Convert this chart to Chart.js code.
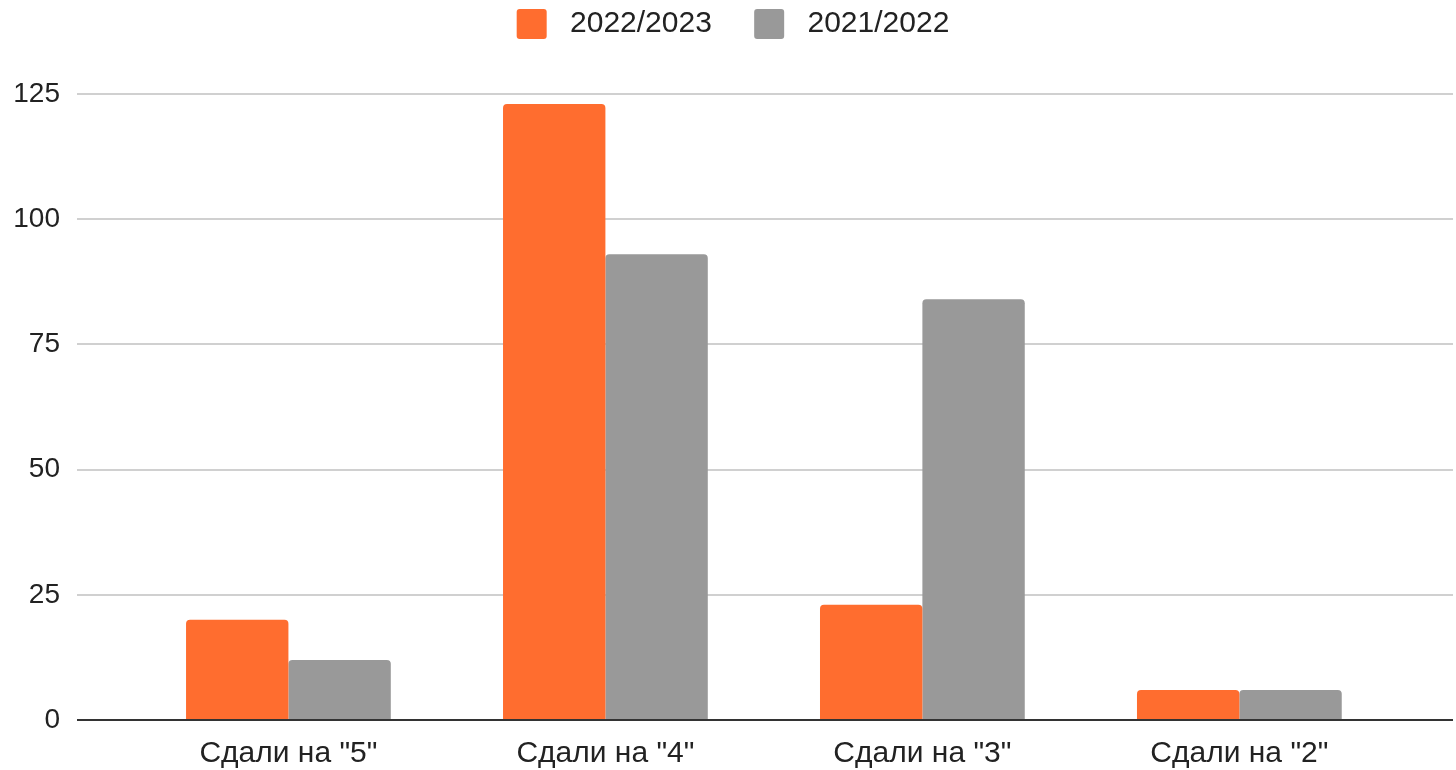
<!DOCTYPE html>
<html>
<head>
<meta charset="utf-8">
<script src="https://cdn.jsdelivr.net/npm/chart.js@4.4.1/dist/chart.umd.min.js"></script>
<style>
    body { margin: 0; background: #fff; }
    #wrap { width: 1456px; height: 770px; position: relative; }
</style>
</head>
<body>
<div id="wrap"><canvas id="gradesChart"></canvas></div>
<script>
// Data
const categories = ['Сдали на "5"', 'Сдали на "4"', 'Сдали на "3"', 'Сдали на "2"'];
const seriesNames = ['2022/2023', '2021/2022'];
const values2023 = [20, 123, 23, 6];
const values2022 = [12, 93, 84, 6];
const yTicks = [0, 25, 50, 75, 100, 125];

const orange = '#ff6d2f';
const grey = '#999999';

// bars sit on a linear x scale so the gridlines can run past the outer categories
function toPoints(vals) {
    return vals.map((v, i) => ({ x: i, y: v }));
}

Chart.defaults.font.family = '"Liberation Sans", Arial, sans-serif';
Chart.defaults.font.size = 28;
Chart.defaults.color = '#222';

const ctx = document.getElementById('gradesChart').getContext('2d');

new Chart(ctx, {
    type: 'bar',
    data: {
        datasets: [
            {
                label: seriesNames[0],
                data: toPoints(values2023),
                backgroundColor: orange,
                borderRadius: 4,
                borderSkipped: 'start'
            },
            {
                label: seriesNames[1],
                data: toPoints(values2022),
                backgroundColor: grey,
                borderRadius: 4,
                borderSkipped: 'start'
            }
        ]
    },
    options: {
        responsive: true,
        maintainAspectRatio: false,
        animation: false,
        categoryPercentage: 0.646,
        barPercentage: 1,
        layout: {
            padding: { top: 0, left: 13, right: 3, bottom: -18 }
        },
        plugins: {
            tooltip: { enabled: false },
            legend: {
                position: 'top',
                labels: {
                    boxWidth: 30,
                    boxHeight: 30,
                    padding: 9,
                    color: '#222',
                    font: { size: 30 },
                    generateLabels: function (chart) {
                        const items = Chart.defaults.plugins.legend.labels.generateLabels(chart);
                        items.forEach((item, i) => {
                            item.lineWidth = 0;
                            item.borderRadius = 3;
                            item.text = ' ' + item.text + (i === 0 ? '    ' : '');
                        });
                        return items;
                    }
                }
            },
            // empty subtitle used as spacer between legend and plot
            subtitle: {
                display: true,
                text: '',
                weight: 500,
                font: { size: 10, lineHeight: 1 },
                padding: { top: 35, bottom: 0 }
            }
        },
        scales: {
            x: {
                type: 'linear',
                offset: false,
                min: -0.667,
                max: 3.674,
                grid: { display: false, drawTicks: false },
                border: { display: false },
                ticks: {
                    stepSize: 1,
                    includeBounds: false,
                    autoSkip: false,
                    maxRotation: 0,
                    padding: 16,
                    font: { size: 30 },
                    callback: function (value) {
                        return Number.isInteger(value) ? categories[value] : '';
                    }
                }
            },
            y: {
                min: yTicks[0],
                max: yTicks[yTicks.length - 1],
                border: { display: false },
                grid: {
                    drawTicks: false,
                    lineWidth: 2,
                    color: function (c) {
                        return c.tick && c.tick.value === 0 ? '#333333' : '#d0d0d0';
                    }
                },
                afterBuildTicks: function (scale) {
                    scale.ticks = yTicks.map(v => ({ value: v }));
                },
                afterFit: function (scale) {
                    // label width + tick padding only
                    scale.width = 64;
                },
                ticks: { padding: 17 }
            }
        }
    }
});
</script>
</body>
</html>
